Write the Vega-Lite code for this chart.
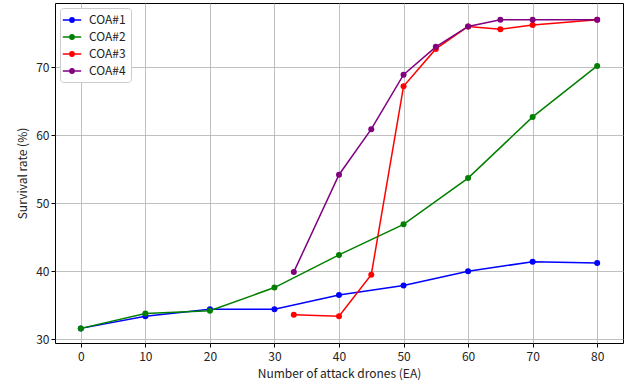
{
  "$schema": "https://vega.github.io/schema/vega-lite/v6.json",
  "width": 568,
  "height": 340,
  "autosize": {"type": "none"},
  "padding": {"left": 55, "top": 3, "right": 1, "bottom": 42},
  "background": "white",
  "config": {
    "font": "Noto Sans CJK KR",
    "view": {"stroke": "black", "strokeWidth": 1},
    "axis": {
      "gridColor": "#b0b0b0",
      "gridWidth": 0.8,
      "gridOpacity": 1,
      "domain": false,
      "tickColor": "black",
      "tickSize": 4,
      "labelFontSize": 12,
      "labelColor": "#222222",
      "titleFontSize": 12,
      "titleFontWeight": "normal",
      "titleColor": "#222222"
    }
  },
  "data": {
    "values": [
      {"x": 0, "y": 31.6, "s": "COA#1"},
      {"x": 10, "y": 33.4, "s": "COA#1"},
      {"x": 20, "y": 34.4, "s": "COA#1"},
      {"x": 30, "y": 34.4, "s": "COA#1"},
      {"x": 40, "y": 36.5, "s": "COA#1"},
      {"x": 50, "y": 37.9, "s": "COA#1"},
      {"x": 60, "y": 40.0, "s": "COA#1"},
      {"x": 70, "y": 41.4, "s": "COA#1"},
      {"x": 80, "y": 41.2, "s": "COA#1"},
      {"x": 0, "y": 31.6, "s": "COA#2"},
      {"x": 10, "y": 33.8, "s": "COA#2"},
      {"x": 20, "y": 34.2, "s": "COA#2"},
      {"x": 30, "y": 37.6, "s": "COA#2"},
      {"x": 40, "y": 42.4, "s": "COA#2"},
      {"x": 50, "y": 46.9, "s": "COA#2"},
      {"x": 60, "y": 53.7, "s": "COA#2"},
      {"x": 70, "y": 62.7, "s": "COA#2"},
      {"x": 80, "y": 70.2, "s": "COA#2"},
      {"x": 33, "y": 33.6, "s": "COA#3"},
      {"x": 40, "y": 33.4, "s": "COA#3"},
      {"x": 45, "y": 39.5, "s": "COA#3"},
      {"x": 50, "y": 67.2, "s": "COA#3"},
      {"x": 55, "y": 72.7, "s": "COA#3"},
      {"x": 60, "y": 76.0, "s": "COA#3"},
      {"x": 65, "y": 75.6, "s": "COA#3"},
      {"x": 70, "y": 76.2, "s": "COA#3"},
      {"x": 80, "y": 77.0, "s": "COA#3"},
      {"x": 33, "y": 39.9, "s": "COA#4"},
      {"x": 40, "y": 54.2, "s": "COA#4"},
      {"x": 45, "y": 60.9, "s": "COA#4"},
      {"x": 50, "y": 68.9, "s": "COA#4"},
      {"x": 55, "y": 73.0, "s": "COA#4"},
      {"x": 60, "y": 76.0, "s": "COA#4"},
      {"x": 65, "y": 77.0, "s": "COA#4"},
      {"x": 70, "y": 77.0, "s": "COA#4"},
      {"x": 80, "y": 77.0, "s": "COA#4"}
    ]
  },
  "encoding": {
    "x": {
      "field": "x", "type": "quantitative",
      "scale": {"domain": [-4, 84], "nice": false, "zero": false},
      "axis": {"values": [0, 10, 20, 30, 40, 50, 60, 70, 80], "title": "Number of attack drones (EA)", "labelPadding": 4, "titlePadding": 6}
    },
    "y": {
      "field": "y", "type": "quantitative",
      "scale": {"domain": [29.45, 79.45], "nice": false, "zero": false},
      "axis": {"values": [30, 40, 50, 60, 70], "title": "Survival rate (%)", "titlePadding": 6}
    },
    "color": {
      "field": "s", "type": "nominal",
      "scale": {"domain": ["COA#1", "COA#2", "COA#3", "COA#4"], "range": ["blue", "green", "red", "purple"]},
      "legend": {
        "title": null,
        "orient": "none",
        "legendX": 5,
        "legendY": 5,
        "padding": 5,
        "fillColor": "white",
        "strokeColor": "#cccccc",
        "cornerRadius": 3,
        "labelFontSize": 12,
        "labelColor": "#222222",
        "rowPadding": 4,
        "symbolType": "M-1.5,0L1.5,0M-0.35,0A0.35,0.35,0,1,0,0.35,0A0.35,0.35,0,1,0,-0.35,0Z",
        "symbolSize": 150,
        "symbolStrokeWidth": 1.5,
        "labelOffset": 10,
        "offset": 0,
        "encode": {
          "symbols": {
            "update": {
              "fill": {"scale": "color", "field": "value"},
              "stroke": {"scale": "color", "field": "value"},
              "fillOpacity": {"value": 1}
            }
          }
        }
      }
    }
  },
  "layer": [
    {"mark": {"type": "line", "strokeWidth": 1.5}},
    {"mark": {"type": "point", "filled": true, "size": 36, "opacity": 1}}
  ]
}
